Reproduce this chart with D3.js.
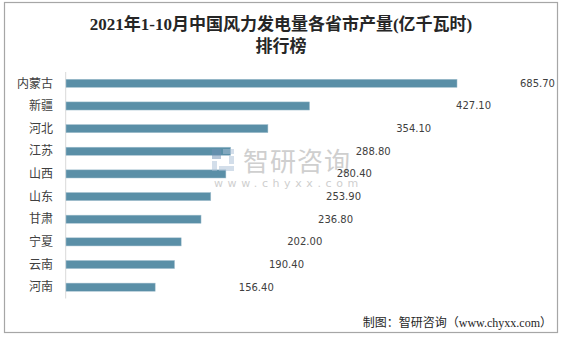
<!DOCTYPE html>
<html><head><meta charset="utf-8">
<script src="https://cdn.jsdelivr.net/npm/d3@7/dist/d3.min.js"></script>
<style>
body{margin:0;background:#fff;}
svg{display:block;}
</style></head>
<body>
<script>
const categories = ["内蒙古","新疆","河北","江苏","山西","山东","甘肃","宁夏","云南","河南"];
const values = [685.70,427.10,354.10,288.80,280.40,253.90,236.80,202.00,190.40,156.40];
// label anchor positions (end of invisible helper series, in data units)
const labelAt = [796,684,579,508,475,456,442,388,356,303];
const titleLines = ["2021年1-10月中国风力发电量各省市产量(亿千瓦时)","排行榜"];
const footer = "制图：智研咨询（www.chyxx.com）";

const W=563,H=337;
const svg=d3.select("body").append("svg").attr("width",W).attr("height",H);
svg.append("rect").attr("x",4.5).attr("y",2.5).attr("width",553).attr("height",330)
  .attr("fill","#fff").attr("stroke","#a6a6a6").attr("stroke-width",1.2);

const x=d3.scaleLinear().domain([0,800]).range([66,522.2]);
const y=d3.scaleBand().domain(categories).range([72,298.5]).paddingInner(0.64).paddingOuter(0.32);

// title
svg.append("g").selectAll("text").data(titleLines).join("text")
  .attr("x",281).attr("y",(d,i)=>30+i*22).attr("text-anchor","middle")
  .attr("font-family","'Liberation Serif','Noto Sans CJK SC',serif").attr("font-size",17)
  .attr("font-weight","bold").attr("fill","#262626").text(d=>d);

// axis line
svg.append("line").attr("x1",65.7).attr("x2",65.7).attr("y1",72).attr("y2",298.5)
  .attr("stroke","#d9d9d9").attr("stroke-width",1);

// category labels
svg.append("g").selectAll("text").data(categories).join("text")
  .attr("x",53).attr("y",d=>y(d)+y.bandwidth()/2).attr("dy","0.35em")
  .attr("text-anchor","end").attr("font-family","'Noto Sans CJK SC',sans-serif")
  .attr("font-size",12).attr("fill","#404040").text(d=>d);

// bars
svg.append("g").selectAll("rect").data(values).join("rect")
  .attr("x",x(0)).attr("y",(d,i)=>y(categories[i]))
  .attr("width",d=>x(d)-x(0)).attr("height",y.bandwidth())
  .attr("fill","#5a8fa7").attr("stroke","#a9c4d2").attr("stroke-width",0.5);

// watermark
const wm=svg.append("g").attr("opacity",0.5);
wm.append("rect").attr("x",212).attr("y",149).attr("width",9).attr("height",10).attr("fill","#6f8fb3");
wm.append("rect").attr("x",223).attr("y",149).attr("width",11).attr("height",5).attr("fill","#a9bfd6");
wm.append("rect").attr("x",229).attr("y",156).attr("width",5).attr("height",8).attr("fill","#a9bfd6");
wm.append("rect").attr("x",212).attr("y",161).attr("width",5).attr("height",10).attr("fill","#a9bfd6");
wm.append("rect").attr("x",219).attr("y",166).attr("width",15).attr("height",5).attr("fill","#a9bfd6");
wm.append("text").attr("x",243).attr("y",171).attr("font-family","'Noto Sans CJK SC',sans-serif")
  .attr("font-size",26).attr("fill","#a0a0a0").attr("letter-spacing",1).text("智研咨询");
wm.append("text").attr("x",214).attr("y",187).attr("font-family","'DejaVu Sans',sans-serif")
  .attr("font-size",11).attr("fill","#a0a0a0").attr("letter-spacing",4.6).text("www.chyxx.com");

// value labels
svg.append("g").selectAll("text").data(values).join("text")
  .attr("x",(d,i)=>x(labelAt[i])).attr("y",(d,i)=>y(categories[i])+y.bandwidth()/2).attr("dy","0.35em")
  .attr("font-family","'DejaVu Sans',sans-serif").attr("font-size",10).attr("fill","#404040")
  .text(d=>d3.format(".2f")(d));

// footer
svg.append("text").attr("x",552).attr("y",327).attr("text-anchor","end")
  .attr("font-family","'Liberation Serif','Noto Sans CJK SC',serif").attr("font-size",12)
  .attr("fill","#262626").text(footer);
</script>
</body></html>
